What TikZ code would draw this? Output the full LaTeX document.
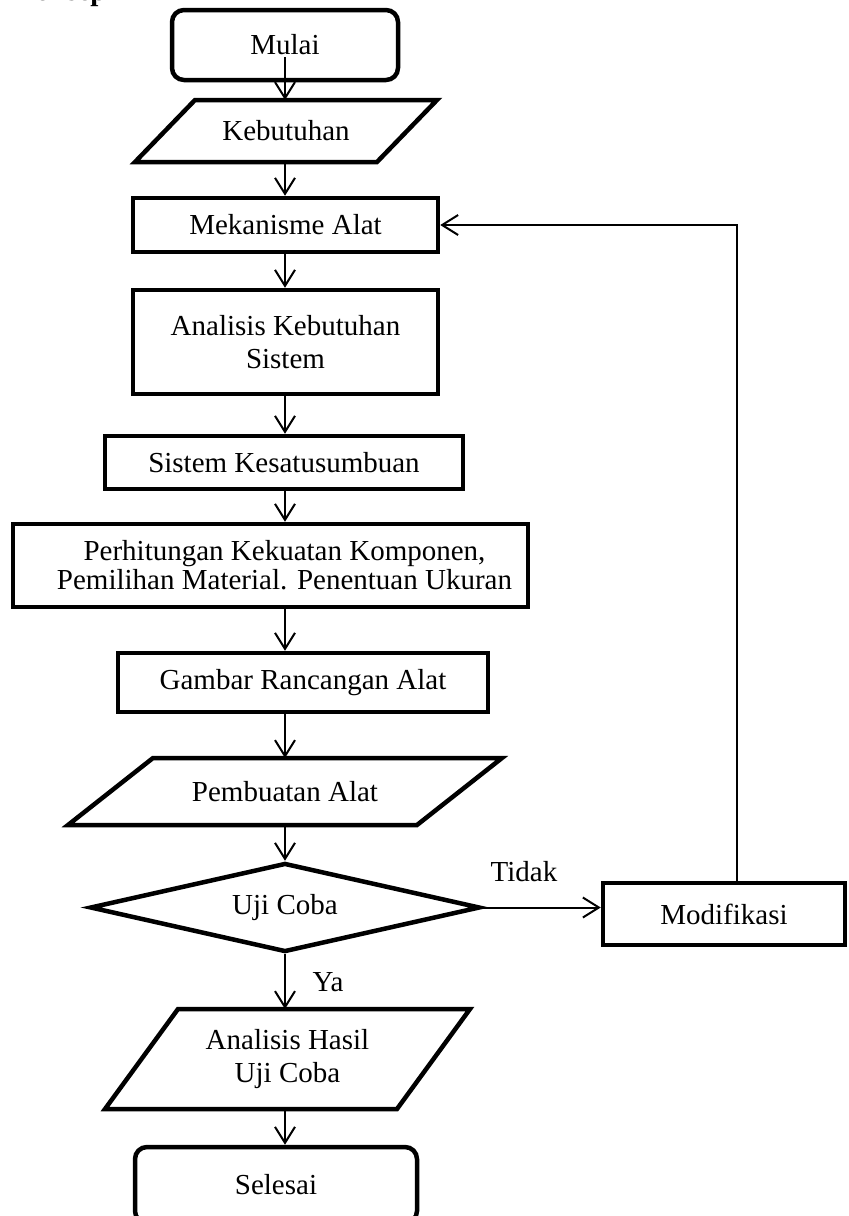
\documentclass[tikz,border=0pt]{standalone}
\usepackage{fontspec}
\setmainfont{Liberation Serif}
\usetikzlibrary{shapes.geometric,arrows.meta}

\tikzset{
  garis/.style={line width=2.25pt},
  proses/.style={draw, garis, inner sep=2pt, align=center},
  terminal/.style={proses, rounded corners=6pt},
  io/.style={inner sep=0pt, outer sep=0pt, align=center},
  keputusan/.style={draw, garis, diamond, aspect=4.4, inner sep=0pt},
  alur/.style={line width=1pt, -{Straight Barb[length=8pt,width=10pt]}},
  keterangan/.style={inner sep=0pt}
}

% jajaran genjang di sekeliling node io: #1 nama node, #2 geser sisi miring
\newcommand{\jajar}[2]{%
  \draw[garis] ([xshift=#2]#1.north west) -- (#1.north east)
    -- ([xshift=-#2]#1.south east) -- (#1.south west) -- cycle;}

\begin{document}
\begin{tikzpicture}[x=0.5pt, y=-0.5pt, font=\fontsize{14.5}{16.5}\selectfont]
\useasboundingbox (0,0) rectangle (848,1216);
\clip (0,0) rectangle (848,1216);

% Judul
\node[font=\fontsize{14.5}{16.5}\selectfont\bfseries, anchor=base east, inner sep=0pt] (judul) at (107,0.5) {Konsep};

% Alur utama
\node[terminal, minimum width=113pt, minimum height=35pt] (mulai) at (285,45) {Mulai};
\node[io, minimum width=151pt, minimum height=31pt] (kebutuhan) at (286,131) {Kebutuhan};
\jajar{kebutuhan}{30pt}
\node[proses, minimum width=152.5pt, minimum height=27pt] (mekanisme) at (285.5,225) {Mekanisme Alat};
\node[proses, minimum width=152.5pt, minimum height=52pt] (analisis) at (285.5,342) {Analisis Kebutuhan\\Sistem};
\node[proses, minimum width=179pt, minimum height=26.5pt] (sistem) at (284,462.5) {Sistem Kesatusumbuan};
\node[proses, minimum width=257.5pt, minimum height=41.5pt,
  label={[align=center, xshift=7pt, font=\fontsize{14.5}{14.5}\selectfont]center:Perhitungan Kekuatan Komponen,\\Pemilihan Material. Penentuan Ukuran}]
  (perhitungan) at (270.5,565.5) {};
\node[proses, minimum width=185pt, minimum height=29.5pt] (gambar) at (303,682.5) {Gambar Rancangan Alat};
\node[io, minimum width=217pt, minimum height=33.5pt] (pembuatan) at (285,791.5) {Pembuatan Alat};
\jajar{pembuatan}{42.5pt}
\node[keputusan, minimum width=195pt, minimum height=44.5pt] (uji) at (285,907.5) {Uji Coba};
\node[io, minimum width=182.5pt, minimum height=50pt] (hasil) at (287.5,1059) {Analisis Hasil\\Uji Coba};
\jajar{hasil}{36.5pt}
\node[terminal, minimum width=141pt, minimum height=38pt] (selesai) at (276,1185) {Selesai};

% Cabang modifikasi
\node[proses, minimum width=121pt, minimum height=31pt] (modifikasi) at (724,914) {Modifikasi};
\node[keterangan] (tidak) at (524,872) {Tidak};
\node[keterangan] (ya) at (328,982) {Ya};

% Panah
\coordinate (awal) at (285,57);
\draw[alur] (awal) -- (awal |- kebutuhan.north);
\foreach \a/\b in {kebutuhan/mekanisme, mekanisme/analisis, analisis/sistem,
  sistem/perhitungan, perhitungan/gambar, gambar/pembuatan, pembuatan/uji,
  uji/hasil, hasil/selesai} {
  \draw[alur] (\a.south -| awal) -- (awal |- \b.north);
}

\draw[alur] (uji.east) -- (uji.east -| modifikasi.west);
\coordinate (balik) at (737,883);
\draw[alur] (modifikasi.north -| balik) |- (mekanisme.east);

\end{tikzpicture}
\end{document}
